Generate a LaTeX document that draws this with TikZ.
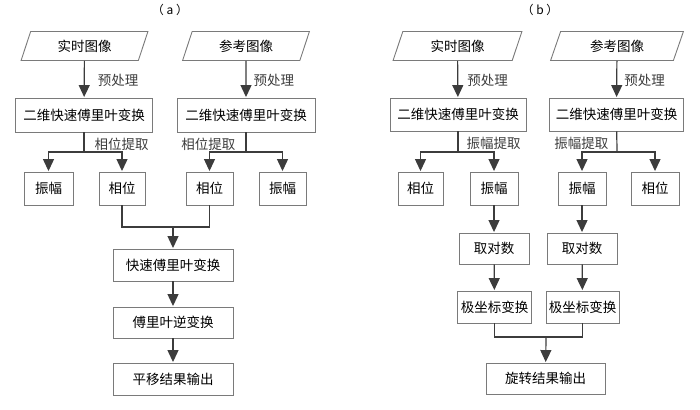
\documentclass[tikz,border=0pt]{standalone}
\usepackage{fontspec}
\setmainfont{Noto Sans CJK SC}
\usepackage{tikz}
\usetikzlibrary{positioning}
\usetikzlibrary{arrows.meta,shapes.geometric}
\usetikzlibrary{calc}
\definecolor{linegray}{HTML}{3C3C3C}
\definecolor{boxgray}{HTML}{7A7A7A}
\tikzstyle{procbox}=[rectangle,draw=boxgray,line width=0.9pt,inner sep=0pt,font=\fontsize{13.5}{15}\selectfont]
\tikzstyle{inbox}=[trapezium,trapezium left angle=69,trapezium right angle=111,trapezium stretches=true,draw=boxgray,line width=0.9pt,inner sep=0pt,font=\fontsize{13.5}{15}\selectfont]
\tikzstyle{edge} = [draw,line width=1.2pt,color=linegray,-{Triangle[length=12pt,width=11pt]},shorten >=0.5pt]
\tikzstyle{plainedge} = [draw,line width=1.2pt,color=linegray]
\tikzstyle{weight} = [font=\fontsize{13.5}{15}\selectfont,inner sep=0pt]

\begin{document}
\begin{tikzpicture}[x=1pt,y=-1pt]
   \useasboundingbox (0,0) rectangle (700,409);

   \node[weight,font=\fontsize{12}{14}\selectfont] (tagA) at (170,10) {（ a ）};
   \node[weight,font=\fontsize{12}{14}\selectfont] (tagB) at (540,10) {（ b ）};

   % input images
   \foreach \pos/\name/\bw/\label in {{(84.5,46)/inA1/127/实时图像}, {(246,46)/inA2/127/参考图像},
                                      {(457.5,46)/inB1/129/实时图像}, {(617,46)/inB2/133/参考图像}}
        \node[inbox,minimum width=\bw pt,minimum height=29pt] (\name) at \pos {\label};

   % boxes
   \foreach \pos/\name/\bw/\bh/\label in {{(84,115)/fftA1/137/34/二维快速傅里叶变换}, {(246,115)/fftA2/138/34/二维快速傅里叶变换},
        {(48.5,188.5)/ampA1/49/33/振幅}, {(122,188.5)/phaA1/46/33/相位},
        {(209.5,188.5)/phaA2/47/33/相位}, {(282.5,188.5)/ampA2/47/33/振幅},
        {(173,265)/fftA/120/32/快速傅里叶变换}, {(173,322.5)/ifftA/120/31/傅里叶逆变换},
        {(173,379)/outA/120/32/平移结果输出},
        {(458,114.5)/fftB1/136/33/二维快速傅里叶变换}, {(616.5,114.5)/fftB2/134/33/二维快速傅里叶变换},
        {(420.5,188.5)/phaB1/45/33/相位}, {(494,188.5)/ampB1/48/33/振幅},
        {(582,188.5)/ampB2/48/33/振幅}, {(655,188.5)/phaB2/48/33/相位},
        {(494,248.5)/logB1/70/31/取对数}, {(582,248.5)/logB2/70/31/取对数},
        {(494.5,307)/polB1/74/32/极坐标变换}, {(582.5,307)/polB2/73/32/极坐标变换},
        {(545.5,378.5)/outB/119/31/旋转结果输出}}
        \node[procbox,minimum width=\bw pt,minimum height=\bh pt] (\name) at \pos {\label};

   % branch and junction points
   \foreach \pos/\name in {{(84,152)/brA1}, {(246,152)/brA2}, {(458,152)/brB1}, {(617,152)/brB2},
                           {(173,227)/jA}, {(546,337)/jB}}
        \path \pos coordinate (\name);

   % preprocessing
   \foreach \source/ \dest /\sh in {inA1/fftA1/13pt, inA2/fftA2/7pt, inB1/fftB1/9pt, inB2/fftB2/7pt}
          \path[edge] (\source) -- node[weight,right,xshift=\sh,yshift=-1pt] {预处理} (\dest);

   % extraction
   \path[plainedge] (fftA1) -- node[weight,right,xshift=10pt,yshift=-2pt] {相位提取} (brA1);
   \path[plainedge] (fftA2) -- node[weight,left,xshift=-10pt,yshift=-2pt] {相位提取} (brA2);
   \path[plainedge] (fftB1) -- node[weight,right,xshift=8pt,yshift=-2pt] {振幅提取} (brB1);
   \path[plainedge] (fftB2) -- node[weight,left,xshift=-8pt,yshift=-2pt] {振幅提取} (brB2);
   \foreach \source/ \dest in {brA1/ampA1, brA1/phaA1, brA2/phaA2, brA2/ampA2,
                               brB1/phaB1, brB1/ampB1, brB2/ampB2, brB2/phaB2}
          \path[edge] (\source) -| (\dest);

   % (a) lower part
   \path[plainedge] (phaA1) |- (jA) -| (phaA2);
   \foreach \source/ \dest in {jA/fftA, fftA/ifftA, ifftA/outA}
          \path[edge] (\source) -- (\dest);

   % (b) lower part
   \foreach \source/ \dest in {ampB1/logB1, ampB2/logB2, logB1/polB1, logB2/polB2}
          \path[edge] (\source) -- (\dest);
   \path[plainedge] (polB1) |- (jB) -| (polB2);
   \path[edge] (jB) -- (outB);

\end{tikzpicture}
\end{document}
